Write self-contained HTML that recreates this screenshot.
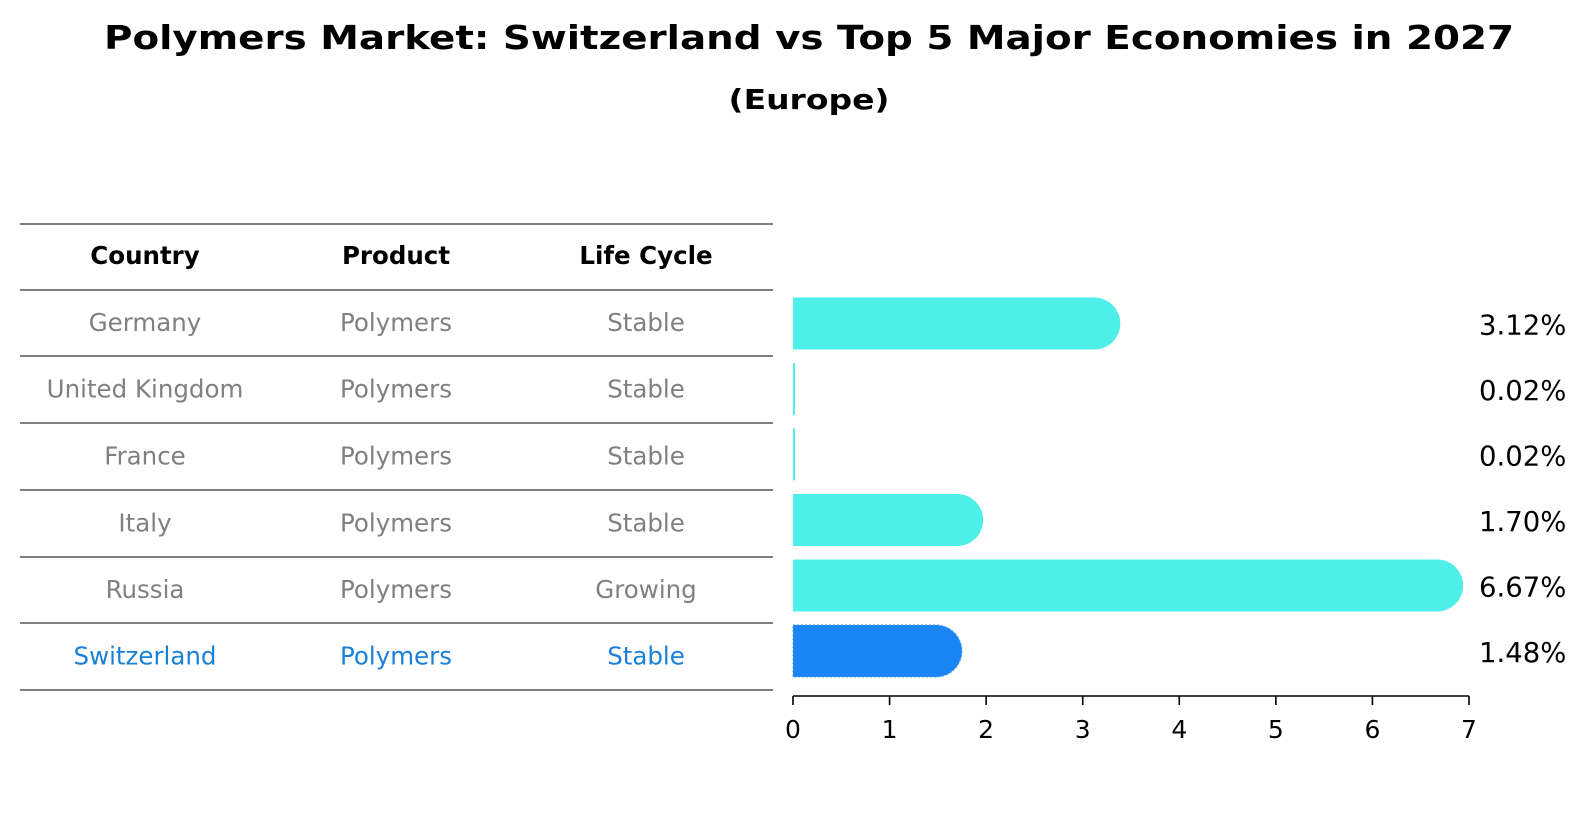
<!DOCTYPE html>
<html><head><meta charset="utf-8"><style>
html,body{margin:0;padding:0;background:#fff;}
svg{display:block;font-family:"DejaVu Sans","Liberation Sans",sans-serif;}
</style></head><body>
<svg id="chart" width="1586" height="823" viewBox="0 0 1586 823" xmlns="http://www.w3.org/2000/svg">
<text x="809" y="49" text-anchor="middle" font-size="33" font-weight="bold" textLength="1410" lengthAdjust="spacingAndGlyphs">Polymers Market: Switzerland vs Top 5 Major Economies in 2027</text>
<text x="809" y="109" text-anchor="middle" font-size="28" font-weight="bold" textLength="161" lengthAdjust="spacingAndGlyphs">(Europe)</text>
<g id="table"></g>
<g id="bars"></g>
<g id="axis"></g>
</svg>
<script>
const countries = ["Germany","United Kingdom","France","Italy","Russia","Switzerland"];
const products = ["Polymers","Polymers","Polymers","Polymers","Polymers","Polymers"];
const lifeCycles = ["Stable","Stable","Stable","Stable","Growing","Stable"];
const values = [3.12,0.02,0.02,1.70,6.67,1.48];
const valueLabels = ["3.12%","0.02%","0.02%","1.70%","6.67%","1.48%"];
const tickValues = [0,1,2,3,4,5,6,7];
const highlight = "Switzerland";

const NS="http://www.w3.org/2000/svg";
function mk(tag,attrs,parent,text){const e=document.createElementNS(NS,tag);for(const k in attrs)e.setAttribute(k,attrs[k]);if(text!==undefined)e.textContent=text;parent.appendChild(e);return e;}
const x0=793, unit=96.57;
function xs(v){return x0+v*unit;}
function yc(i){return 323.5+i*65.5;}
const table=document.getElementById('table'), bars=document.getElementById('bars'), axis=document.getElementById('axis');

const lineYs=[224,290,356,423,490,557,623,690];
lineYs.forEach((y,i)=>{const l=mk('line',{x1:20,x2:773,y1:y,y2:y,stroke:'#000','stroke-width':1},table);

});
const colX=[145,396,646];
["Country","Product","Life Cycle"].forEach((h,j)=>{const t=mk('text',{x:colX[j],y:264,'text-anchor':'middle','font-size':24.5,'font-weight':'bold'},table,h);

});
countries.forEach((c,i)=>{
  const col=c===highlight?'#1a80d9':'#808080';
  const ty=(lineYs[i+1]+lineYs[i+2])/2+8;
  [c,products[i],lifeCycles[i]].forEach((v,j)=>{
    const t=mk('text',{x:colX[j],y:ty,'text-anchor':'middle','font-size':24.5,fill:col},table,v);
    
    
  });
});

const h=52, r=26;
values.forEach((v,i)=>{
  const y=yc(i)-h/2, xe=xs(v);
  const isH=countries[i]===highlight;
  const fill=isH?'#1a86f5':'#4eeee9';
  let el;
  if(v<0.1){
    el=mk('rect',{x:x0,y:y,width:Math.max(2,xe-x0),height:h,fill:fill},bars);
  }else{
    el=mk('path',{d:`M${x0},${y} H${xe} A${r},${r} 0 0 1 ${xe},${y+h} H${x0} Z`,fill:fill},bars);
    if(isH){el.setAttribute('stroke','#4a9de8');el.setAttribute('stroke-dasharray','2,2');el.setAttribute('stroke-width','1');}
  }
  
  
  const t=mk('text',{x:1479,y:yc(i)+11,'font-size':27.5},bars,valueLabels[i]);
  
  
});

const al=mk('line',{x1:x0,x2:xs(7),y1:696,y2:696,stroke:'#000','stroke-width':1.6},axis);


tickValues.forEach(v=>{
  const tk=mk('line',{x1:xs(v),x2:xs(v),y1:696,y2:705,stroke:'#000','stroke-width':1.6},axis);
  
  
  const t=mk('text',{x:xs(v),y:738,'text-anchor':'middle','font-size':25},axis,String(v));
  
  
});
</script>
</body></html>
